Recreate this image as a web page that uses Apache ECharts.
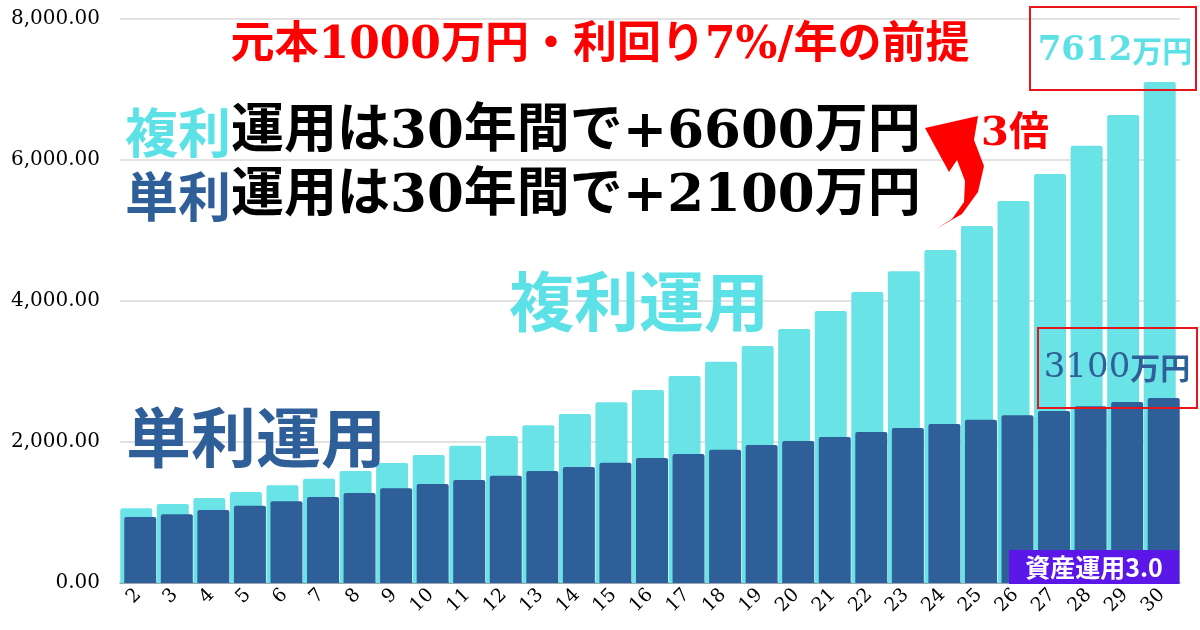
<!DOCTYPE html>
<html><head><meta charset="utf-8">
<script src="https://cdn.jsdelivr.net/npm/echarts@6/dist/echarts.min.js"></script>
<style>html,body{margin:0;padding:0;background:#fff}#c{width:1200px;height:630px}</style>
</head><body><div id="c"></div>
<script>
const years = ['2','3','4','5','6','7','8','9','10','11','12','13','14','15','16','17','18','19','20','21','22','23','24','25','26','27','28','29','30'];
const compound = [1062,1120,1206,1291,1386,1480,1589,1702,1816,1948,2085,2237,2397,2563,2738,2936,3139,3362,3603,3858,4128,4421,4723,5064,5418,5801,6203,6638,7106];
const simple = [935,974,1035,1096,1159,1220,1277,1343,1404,1461,1522,1589,1645,1706,1773,1830,1891,1957,2014,2071,2142,2199,2255,2316,2379,2440,2506,2567,2624];
const yTicks = {min:0, max:8000, interval:2000};

const CYAN = '#69e3e6', BLUE = '#2e5f98', RED = '#ff0000';
const MIX = "'DejaVu Serif','Noto Sans CJK JP'";
const CJK = "'Noto Sans CJK JP'";

const chart = echarts.init(document.getElementById('c'), null, {renderer:'canvas'});
chart.setOption({
  animation:false,
  grid:{left:120, right:20, top:19, bottom:47, containLabel:false},
  xAxis:{type:'category', data:years,
    axisTick:{show:false},
    axisLine:{lineStyle:{color:'#8593a3', width:1.5}},
    axisLabel:{rotate:45, interval:0, margin:9, color:'#000', fontFamily:'DejaVu Serif', fontSize:19}},
  yAxis:{type:'value', min:yTicks.min, max:yTicks.max, interval:yTicks.interval,
    axisLine:{show:false}, axisTick:{show:false},
    splitLine:{lineStyle:{color:'#d9d9d9', width:1.5}},
    axisLabel:{margin:20, color:'#000', fontFamily:'DejaVu Serif', fontSize:20,
      formatter:v=>v.toLocaleString('en-US',{minimumFractionDigits:2, maximumFractionDigits:2})}},
  series:[
    {type:'bar', name:'複利', data:compound, barWidth:32, barGap:'-87.5%',
      itemStyle:{color:CYAN, borderRadius:[2,2,0,0]}},
    {type:'bar', name:'単利', data:simple, barWidth:32,
      itemStyle:{color:BLUE, borderRadius:[2,2,0,0]}}
  ],
  graphic:[
    {type:'text', x:600, y:47, z:100,
      style:{text:'元本1000万円・利回り7%/年の前提', font:"bold 44px "+MIX, fill:RED, align:'center', verticalAlign:'middle'}},
    {type:'text', x:125, y:133, z:100,
      style:{text:'{a|複利}{b|運用は30年間で+6600万円}', verticalAlign:'middle',
        rich:{a:{fill:'#5ce1e6', font:"bold 53px "+CJK}, b:{fill:'#000', font:"bold 53px "+MIX}}}},
    {type:'text', x:125, y:197, z:100,
      style:{text:'{a|単利}{b|運用は30年間で+2100万円}', verticalAlign:'middle',
        rich:{a:{fill:BLUE, font:"bold 53px "+CJK}, b:{fill:'#000', font:"bold 53px "+MIX}}}},
    {type:'text', x:1015, y:135, z:100,
      style:{text:'3倍', font:"bold 40px "+MIX, fill:RED, align:'center', verticalAlign:'middle'}},
    {type:'polygon', z:100,
      shape:{points:[[936,229],[962,214],[978,192],[984,166],[974,140],[978,116],[925,128],[949,172],[957,160],[965,181],[964,202],[952,219]]},
      style:{fill:RED}},
    {type:'text', x:639, y:301, z:100,
      style:{text:'複利運用', font:"bold 65px "+CJK, fill:'#5ce1e6', align:'center', verticalAlign:'middle'}},
    {type:'text', x:256, y:437, z:100,
      style:{text:'単利運用', font:"bold 65px "+CJK, fill:BLUE, align:'center', verticalAlign:'middle'}},
    {type:'rect', z:100, shape:{x:1030, y:7, width:166, height:83},
      style:{fill:'none', stroke:'#e8141c', lineWidth:2}},
    {type:'text', x:1115, y:51, z:101,
      style:{text:'{d|7612}{k|万円}', align:'center', verticalAlign:'middle',
        rich:{d:{fill:'#5ce1e6', font:"bold 34px 'DejaVu Serif'"}, k:{fill:'#5ce1e6', font:"bold 30px "+CJK}}}},
    {type:'rect', z:100, shape:{x:1038, y:328, width:159, height:80},
      style:{fill:'none', stroke:'#e8141c', lineWidth:2}},
    {type:'text', x:1117, y:368, z:101,
      style:{text:'{d|3100}{k|万円}', align:'center', verticalAlign:'middle',
        rich:{d:{fill:BLUE, font:"34px 'DejaVu Serif'"}, k:{fill:BLUE, font:"bold 30px "+CJK}}}},
    {type:'rect', z:100, shape:{x:1009, y:550, width:170, height:34}, style:{fill:'#5b17e8'}},
    {type:'text', x:1094, y:567, z:101,
      style:{text:'資産運用3.0', font:"bold 25px "+CJK, fill:'#fff', align:'center', verticalAlign:'middle'}}
  ]
});
</script></body></html>
